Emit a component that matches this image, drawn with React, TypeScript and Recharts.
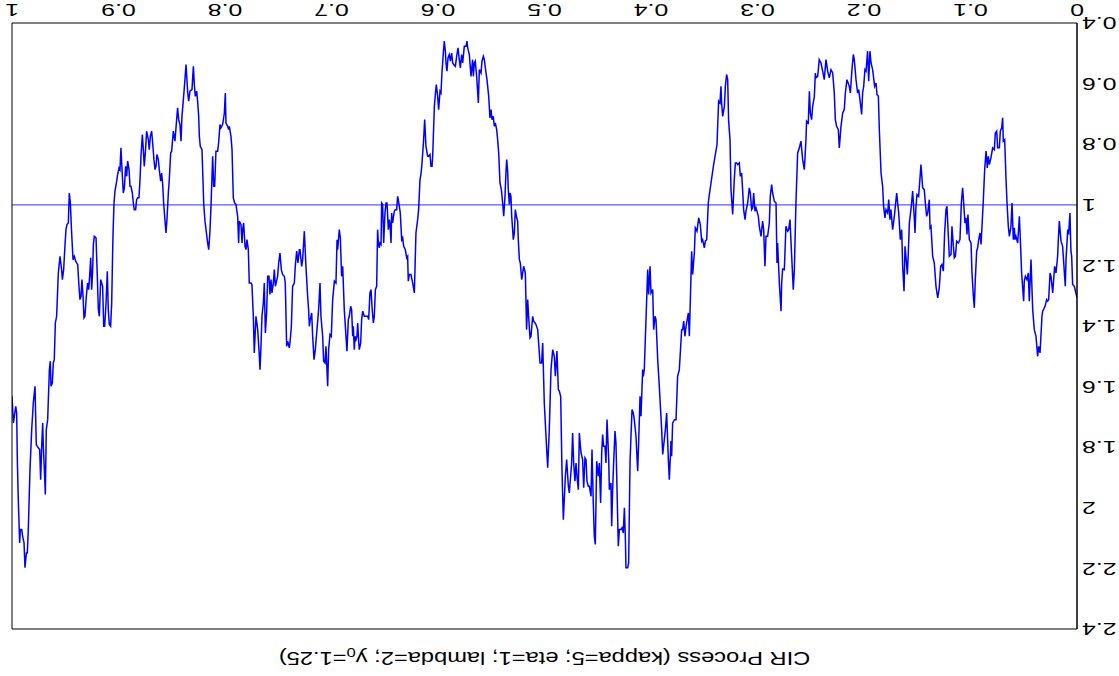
import React from 'react';
import { LineChart, Line, XAxis, YAxis, ReferenceLine } from 'recharts';

const W = 1119;
const H = 676;

const xTicks = [0, 0.1, 0.2, 0.3, 0.4, 0.5, 0.6, 0.7, 0.8, 0.9, 1];
const yTicks = [0.4, 0.6, 0.8, 1, 1.2, 1.4, 1.6, 1.8, 2, 2.2, 2.4];
const longRunMean = 1;

// [time, value] samples of the simulated CIR path
const seg1: [number, number][] = [[0,1.307],[0.0025,1.269],[0.0041,1.263],[0.005,1.17],[0.0057,1.153],[0.0066,1.027],[0.0078,1.093],[0.0088,1.087],[0.0103,1.181],[0.011,1.269],[0.0135,1.137],[0.015,1.12],[0.0166,1.054],[0.0175,1.115],[0.0182,1.17],[0.0197,1.225],[0.021,1.203],[0.0228,1.291],[0.0244,1.236],[0.0253,1.225],[0.0266,1.313],[0.0275,1.318],[0.0285,1.313],[0.03,1.335],[0.0322,1.351],[0.0329,1.368],[0.0347,1.489],[0.036,1.467],[0.037,1.5],[0.0385,1.434],[0.0401,1.412],[0.0416,1.346],[0.0432,1.181],[0.0448,1.318],[0.0457,1.225],[0.047,1.247],[0.0485,1.236],[0.0495,1.252],[0.0501,1.318],[0.052,1.225],[0.0532,1.115],[0.0541,1.038],[0.0557,1.126],[0.0573,1.104],[0.0582,1.115],[0.0588,1.076],[0.0598,1.115],[0.061,0.994],[0.062,1.071],[0.0635,1.104],[0.0645,1.071],[0.0657,0.994],[0.0667,0.911],[0.0679,0.785],[0.0692,0.79],[0.0698,0.713],[0.0707,0.746],[0.072,0.757],[0.0729,0.812],[0.0745,0.812],[0.0754,0.757],[0.0767,0.763],[0.0776,0.818],[0.0792,0.812],[0.0808,0.845],[0.0823,0.867],[0.0833,0.84],[0.0842,0.878],[0.0854,0.823],[0.0867,0.884],[0.088,0.988],[0.0892,1.071],[0.0901,1.131],[0.0911,1.093],[0.0923,1.115],[0.0933,1.142],[0.0942,1.153],[0.0955,1.247],[0.0964,1.34],[0.0973,1.302],[0.0986,1.225],[0.0995,1.126],[0.1011,1.115],[0.1024,1.032],[0.1033,1.098],[0.1042,1.043],[0.1052,1.06],[0.1064,0.994],[0.1074,0.944],[0.1086,0.994],[0.1099,1.115],[0.1114,1.126],[0.113,1.12],[0.1142,1.17],[0.1152,1.175],[0.1161,1.137],[0.1174,1.071],[0.1183,1.164],[0.1199,1.17],[0.1208,1.104],[0.1221,1.005],[0.123,1.016],[0.1243,1.093],[0.1255,1.219],[0.1268,1.197],[0.128,1.203],[0.1293,1.274],[0.1308,1.307],[0.1324,1.269],[0.134,1.192],[0.1355,1.17],[0.1371,1.071],[0.138,1.076],[0.1387,0.983],[0.1402,1.027],[0.1412,1.038],[0.1424,0.994],[0.1434,0.95],[0.1449,0.944],[0.1465,0.867],[0.1474,0.911],[0.1487,0.972],[0.1502,0.966],[0.1512,1.005],[0.1521,1.093],[0.1527,1.049],[0.1543,0.955],[0.1556,1.005],[0.1574,1.06],[0.1584,1.159],[0.1593,1.23],[0.1606,1.17],[0.1615,1.137],[0.1624,1.285],[0.1637,1.203],[0.1646,1.082],[0.1659,1.115],[0.1674,1.027],[0.1684,0.994],[0.1693,0.961]];

const seg2: [number, number][] = [[0.1706,1.005],[0.1715,1.038],[0.1731,1.082],[0.1747,1.016],[0.1756,1.049],[0.1768,0.983],[0.1778,1.027],[0.1794,1.016],[0.1803,1.043],[0.1816,1.005],[0.1825,0.939],[0.184,0.895],[0.1856,0.752],[0.1865,0.642],[0.1878,0.636],[0.1887,0.598],[0.19,0.609],[0.1919,0.554],[0.1934,0.532],[0.1944,0.493],[0.1956,0.592],[0.1966,0.493],[0.1981,0.559],[0.1991,0.554],[0.2003,0.609],[0.2013,0.631],[0.2022,0.702],[0.2038,0.653],[0.205,0.62],[0.206,0.631],[0.2075,0.587],[0.2091,0.521],[0.21,0.504],[0.2113,0.554],[0.2128,0.631],[0.2138,0.609],[0.216,0.587],[0.2175,0.631],[0.2185,0.686],[0.22,0.697],[0.2216,0.741],[0.2232,0.812],[0.2241,0.752],[0.2257,0.741],[0.2269,0.719],[0.2279,0.631],[0.2294,0.565],[0.231,0.554],[0.2326,0.581],[0.2341,0.559],[0.2357,0.521],[0.2373,0.587],[0.2388,0.559],[0.2404,0.532],[0.242,0.521],[0.2435,0.576],[0.2451,0.581],[0.2457,0.565],[0.2466,0.642],[0.2482,0.675],[0.2492,0.719],[0.2504,0.697],[0.2513,0.625],[0.2523,0.73],[0.2539,0.724],[0.2545,0.785],[0.256,0.884],[0.2576,0.851],[0.2592,0.79],[0.2607,0.812],[0.2623,0.829],[0.2639,0.994],[0.2654,1.214],[0.2664,1.28],[0.2676,1.192],[0.2695,1.049],[0.2707,1.082],[0.2717,1.087],[0.2733,1.071],[0.2748,1.214],[0.2764,1.212],[0.2773,1.258],[0.2779,1.351],[0.2795,1.258],[0.2811,1.126],[0.2817,1.192],[0.2826,0.994],[0.2842,0.988],[0.2858,0.961],[0.2867,0.933],[0.288,0.972],[0.2889,1.06],[0.2905,1.104],[0.292,1.104],[0.293,1.203],[0.2942,1.082],[0.2952,1.054],[0.2967,1.104],[0.2983,1.071],[0.2992,1.038],[0.3005,1.021],[0.3014,1.01],[0.3024,1.021],[0.3036,0.961],[0.3045,1.01],[0.3055,1.016],[0.3067,0.961],[0.3077,0.944],[0.3092,0.994],[0.3108,1.021],[0.3117,1.049],[0.313,1.016],[0.3139,0.955],[0.3149,0.895],[0.3161,0.906],[0.3171,0.862],[0.3186,0.867],[0.3196,0.862],[0.3208,0.862],[0.3218,0.917],[0.3233,1.032],[0.3249,0.95],[0.3258,0.785],[0.3271,0.724],[0.328,0.587],[0.329,0.57],[0.3302,0.609],[0.3311,0.675],[0.3327,0.708],[0.3337,0.664],[0.3343,0.609],[0.3352,0.664],[0.3365,0.658],[0.3374,0.741],[0.338,0.801],[0.3413,0.87]];

const seg3: [number, number][] = [[0.3452,0.966],[0.3462,0.994],[0.3477,1.115],[0.349,1.12],[0.3499,1.142],[0.3515,1.115],[0.3524,1.12],[0.3537,1.065],[0.3552,1.043],[0.3568,1.087],[0.3584,1.076],[0.3593,1.159],[0.3609,1.23],[0.3618,1.153],[0.3634,1.357],[0.364,1.434],[0.3649,1.357],[0.3671,1.401],[0.3681,1.434],[0.3693,1.384],[0.3703,1.412],[0.3712,1.412],[0.3734,1.544],[0.375,1.566],[0.3765,1.709],[0.3778,1.709],[0.3797,1.72],[0.3806,1.83],[0.3812,1.78],[0.3828,1.907],[0.3837,1.841],[0.3853,1.687],[0.3865,1.742],[0.3875,1.775],[0.389,1.824],[0.39,1.742],[0.3922,1.599],[0.3937,1.511],[0.3953,1.379],[0.3962,1.368],[0.3975,1.412],[0.3984,1.28],[0.4,1.291],[0.4009,1.203],[0.4022,1.296],[0.4031,1.214],[0.4047,1.379],[0.4063,1.544],[0.4072,1.566],[0.4078,1.544],[0.4094,1.698],[0.4103,1.632],[0.4116,1.786],[0.4125,1.879],[0.4141,1.764],[0.4157,1.709],[0.4166,1.687],[0.4178,1.676],[0.4188,1.764],[0.4197,1.852],[0.421,2.182],[0.4219,2.198],[0.4235,2.198],[0.4241,2.094],[0.425,2.0],[0.426,2.083],[0.4272,2.066],[0.4282,2.072],[0.4297,2.072],[0.4307,2.127],[0.4319,1.94],[0.4329,1.786],[0.4338,1.747],[0.4351,1.852],[0.436,1.94],[0.4369,2.061],[0.4376,1.918],[0.4391,1.94],[0.4397,1.841],[0.4413,1.709],[0.4423,1.852],[0.4432,1.797],[0.4445,1.797],[0.4454,1.758],[0.4463,1.819],[0.4473,1.984],[0.4485,1.852],[0.4495,1.896],[0.451,1.846],[0.4523,2.121],[0.4532,2.094],[0.4542,1.984],[0.4554,1.808],[0.4563,1.962],[0.4579,1.929],[0.4589,1.929],[0.4601,1.912],[0.461,1.841],[0.462,1.835],[0.4632,1.934],[0.4642,1.841],[0.4657,1.819],[0.4673,1.753],[0.4682,1.94],[0.4692,1.907],[0.4704,1.852],[0.4714,1.912],[0.4726,1.852],[0.4736,1.753],[0.4745,1.852],[0.4767,1.951],[0.4776,1.929],[0.4792,1.841],[0.4804,1.896],[0.4823,2.039],[0.4836,1.874],[0.4848,1.632],[0.4861,1.615],[0.487,1.61],[0.4883,1.483],[0.4898,1.566],[0.4908,1.5],[0.4923,1.478],[0.4939,1.544],[0.4955,1.742],[0.497,1.868],[0.4986,1.764],[0.5002,1.654],[0.5017,1.456],[0.5027,1.522],[0.5042,1.522],[0.5055,1.456],[0.5064,1.412],[0.508,1.395]];

const seg4: [number, number][] = [[0.5089,1.39],[0.5102,1.384],[0.5111,1.368],[0.5127,1.434],[0.5136,1.439],[0.5149,1.368],[0.5158,1.313],[0.5168,1.412],[0.518,1.225],[0.5196,1.203],[0.5214,1.247],[0.5227,1.192],[0.5236,1.181],[0.5246,1.115],[0.5252,1.054],[0.5261,1.043],[0.5274,1.016],[0.5283,1.093],[0.5293,1.115],[0.5299,1.082],[0.5308,1.038],[0.5315,0.972],[0.5324,0.961],[0.533,0.999],[0.534,0.95],[0.5346,0.889],[0.5355,0.851],[0.5362,0.895],[0.5371,0.972],[0.5383,1.038],[0.5393,0.994],[0.5405,0.95],[0.5418,0.928],[0.543,0.829],[0.544,0.785],[0.5449,0.752],[0.5462,0.73],[0.5471,0.741],[0.5481,0.708],[0.5493,0.719],[0.5502,0.686],[0.5512,0.713],[0.5524,0.642],[0.554,0.587],[0.5549,0.565],[0.5565,0.521],[0.5574,0.51],[0.5587,0.526],[0.5596,0.565],[0.5612,0.554],[0.5621,0.664],[0.5628,0.625],[0.5637,0.576],[0.565,0.526],[0.5659,0.532],[0.5668,0.576],[0.5675,0.521],[0.569,0.576],[0.5706,0.504],[0.5721,0.482],[0.5728,0.46],[0.5737,0.477],[0.5753,0.477],[0.5768,0.532],[0.5778,0.504],[0.579,0.548],[0.58,0.521],[0.5812,0.482],[0.5825,0.51],[0.5837,0.543],[0.5853,0.537],[0.5862,0.532],[0.5872,0.499],[0.5884,0.526],[0.5894,0.504],[0.5906,0.515],[0.5916,0.559],[0.5925,0.532],[0.5931,0.493],[0.5941,0.46],[0.595,0.499],[0.5963,0.565],[0.5972,0.631],[0.5981,0.625],[0.5994,0.686],[0.6003,0.642],[0.6016,0.603],[0.6025,0.636],[0.6034,0.675],[0.605,0.84],[0.6056,0.873],[0.6066,0.873],[0.6075,0.834],[0.6088,0.84],[0.6097,0.84],[0.6113,0.807],[0.6125,0.719],[0.6135,0.785],[0.615,0.862],[0.616,0.9],[0.6169,0.917],[0.6182,1.016],[0.6191,1.049],[0.6207,1.093],[0.6222,1.291],[0.6238,1.258],[0.6254,1.23],[0.6269,1.23],[0.6279,1.252],[0.6285,1.17],[0.6294,1.175],[0.6307,1.148],[0.6322,1.137],[0.6332,1.109],[0.6341,1.115],[0.6354,1.027],[0.6363,1.005],[0.6373,0.983],[0.6379,0.972],[0.6388,1.016],[0.6401,1.016],[0.641,1.021],[0.6426,1.06],[0.6435,1.027],[0.6441,1.126],[0.6451,1.06],[0.6457,1.049],[0.6466,1.082],[0.6479,0.994],[0.6488,0.994],[0.6498,1.027],[0.651,1.126],[0.652,0.999],[0.6529,0.994],[0.6535,1.131],[0.6545,1.126],[0.6551,1.142],[0.656,1.126],[0.6567,1.082],[0.6576,1.269],[0.6588,1.28],[0.6598,1.368],[0.6607,1.39],[0.662,1.335],[0.6629,1.28],[0.6639,1.291],[0.6651,1.379],[0.666,1.368],[0.6676,1.368],[0.6692,1.368],[0.6707,1.351],[0.6717,1.379],[0.6726,1.456],[0.6739,1.478],[0.6745,1.45],[0.6754,1.39],[0.6761,1.434],[0.677,1.445]];

const seg5: [number, number][] = [[0.6779,1.434],[0.6786,1.478],[0.6795,1.401],[0.6801,1.434],[0.6811,1.346],[0.682,1.335],[0.6833,1.368],[0.6842,1.379],[0.6855,1.483],[0.6864,1.434],[0.688,1.346],[0.6895,1.203],[0.6905,1.236],[0.6917,1.109],[0.6927,1.082],[0.6942,1.148],[0.6948,1.115],[0.6958,1.258],[0.6973,1.252],[0.6989,1.313],[0.7002,1.434],[0.7014,1.428],[0.7027,1.478],[0.7036,1.599],[0.7052,1.467],[0.7061,1.522],[0.7074,1.516],[0.7083,1.434],[0.7099,1.368],[0.7108,1.258],[0.7121,1.346],[0.7139,1.423],[0.7152,1.478],[0.7164,1.511],[0.7177,1.434],[0.7186,1.357],[0.7199,1.379],[0.7208,1.401],[0.7215,1.346],[0.7224,1.302],[0.724,1.203],[0.7255,1.087],[0.7271,1.181],[0.728,1.203],[0.7296,1.148],[0.7302,1.148],[0.7315,1.192],[0.7327,1.153],[0.734,1.203],[0.7349,1.258],[0.7365,1.269],[0.7377,1.401],[0.739,1.456],[0.7396,1.472],[0.7412,1.45],[0.7421,1.467],[0.7434,1.258],[0.7443,1.236],[0.7459,1.23],[0.7471,1.214],[0.7484,1.159],[0.7496,1.192],[0.7506,1.236],[0.7527,1.269],[0.7537,1.214],[0.7546,1.258],[0.7559,1.291],[0.7568,1.247],[0.7578,1.296],[0.7587,1.236],[0.7599,1.236],[0.7609,1.357],[0.7621,1.423],[0.7631,1.258],[0.764,1.324],[0.7653,1.368],[0.7662,1.467],[0.7671,1.544],[0.7681,1.478],[0.7693,1.412],[0.7709,1.368],[0.7715,1.412],[0.7725,1.489],[0.7734,1.368],[0.7747,1.263],[0.7756,1.258],[0.7772,1.258],[0.7781,1.148],[0.7794,1.115],[0.7803,1.148],[0.7812,1.137],[0.7825,1.06],[0.7834,1.082],[0.784,1.126],[0.785,1.065],[0.7866,1.054],[0.7872,1.126],[0.7881,1.038],[0.7897,0.999],[0.7909,0.994],[0.7922,0.977],[0.7934,0.818],[0.7944,0.774],[0.7959,0.741],[0.7966,0.752],[0.7975,0.741],[0.7991,0.73],[0.7997,0.631],[0.8006,0.697],[0.8022,0.735],[0.8038,0.746],[0.8047,0.735],[0.806,0.796],[0.8069,0.823],[0.8085,0.823],[0.8097,0.939],[0.8106,0.939],[0.8116,0.84],[0.8125,0.939],[0.8131,0.999],[0.8141,1.087],[0.8153,1.148],[0.8163,1.126],[0.8178,1.082],[0.8188,1.054],[0.82,0.994],[0.8216,0.818],[0.8232,0.807],[0.8241,0.774],[0.8247,0.708],[0.8257,0.658],[0.8266,0.625],[0.8279,0.642],[0.8288,0.603],[0.8297,0.543],[0.831,0.62],[0.8329,0.625],[0.8341,0.658],[0.835,0.631],[0.8366,0.537],[0.8382,0.614],[0.8391,0.653],[0.8404,0.708],[0.8413,0.79],[0.8423,0.735],[0.8435,0.719],[0.8445,0.68],[0.8454,0.719]];

const seg6: [number, number][] = [[0.847,0.79],[0.8485,0.757],[0.8501,0.823],[0.851,0.829],[0.8523,0.917],[0.8532,0.961],[0.8545,1.049],[0.8554,1.093],[0.8563,1.054],[0.8576,0.994],[0.8585,0.933],[0.8595,0.895],[0.8604,0.922],[0.8617,0.884],[0.8626,0.851],[0.8639,0.834],[0.8648,0.873],[0.8657,0.884],[0.8667,0.851],[0.8679,0.796],[0.8689,0.757],[0.8701,0.774],[0.8711,0.818],[0.872,0.785],[0.8736,0.757],[0.8745,0.812],[0.8758,0.873],[0.8767,0.818],[0.8776,0.768],[0.8789,0.84],[0.8798,0.917],[0.8808,0.977],[0.882,0.977],[0.883,0.983],[0.8839,1.016],[0.8852,1.016],[0.8861,0.994],[0.887,0.961],[0.8883,0.939],[0.8892,0.939],[0.8901,0.884],[0.8914,0.856],[0.8923,0.906],[0.8933,0.873],[0.8945,0.944],[0.8955,0.961],[0.8967,0.884],[0.8977,0.812],[0.8986,0.884],[0.8995,0.878],[0.9008,0.9],[0.9017,0.922],[0.9033,0.955],[0.9042,0.994],[0.9052,1.104],[0.9064,1.324],[0.9074,1.401],[0.9086,1.395],[0.9096,1.346],[0.9105,1.219],[0.9117,1.324],[0.913,1.401],[0.9139,1.401],[0.9149,1.269],[0.9158,1.258],[0.9167,1.247],[0.918,1.368],[0.9189,1.346],[0.9199,1.236],[0.9211,1.109],[0.9227,1.104],[0.9236,1.131],[0.9243,1.219],[0.9252,1.28],[0.9261,1.175],[0.9271,1.236],[0.928,1.28],[0.929,1.258],[0.9302,1.302],[0.9315,1.368],[0.9324,1.373],[0.9333,1.302],[0.9343,1.247],[0.9352,1.302],[0.9362,1.313],[0.9371,1.269],[0.9383,1.197],[0.9393,1.192],[0.9402,1.186],[0.9415,1.17],[0.9427,1.181],[0.944,1.093],[0.9452,0.994],[0.9462,0.961],[0.9471,1.06],[0.9484,1.065],[0.9493,1.082],[0.9502,1.131],[0.9515,1.214],[0.9527,1.247],[0.9534,1.214],[0.954,1.197],[0.9549,1.17],[0.9565,1.225],[0.9581,1.368],[0.9593,1.39],[0.9603,1.511],[0.9612,1.522],[0.9621,1.588],[0.9634,1.599],[0.964,1.516],[0.9649,1.544],[0.9665,1.709],[0.9678,1.742],[0.9687,1.956],[0.9696,1.874],[0.9706,1.797],[0.9712,1.72],[0.9721,1.797],[0.9731,1.907],[0.974,1.808],[0.9753,1.802],[0.9762,1.797],[0.9772,1.791],[0.9784,1.599],[0.98,1.654],[0.9815,1.742],[0.9831,1.874],[0.9847,2.072],[0.9856,2.149],[0.9865,2.149],[0.9878,2.198],[0.9887,2.116],[0.99,2.094],[0.9909,2.072],[0.9922,2.072],[0.9928,2.116],[0.994,1.984],[0.995,1.841],[0.9956,1.687],[0.9965,1.665],[0.9978,1.698],[0.9987,1.72],[1,1.632]];

const data = [...seg1, ...seg2, ...seg3, ...seg4, ...seg5, ...seg6].map(([t, v]) => ({ t, v }));

const FONT = '"Liberation Sans", Arial, Helvetica, sans-serif';

function XTick(props: any) {
  const { x, y, payload } = props;
  return (
    <g transform={`translate(${x},${y})`}>
      <text x={0} y={19.5} textAnchor="middle" fontSize={16} fontFamily={FONT} fill="#000" transform="scale(1.55,1)">
        {String(payload.value)}
      </text>
    </g>
  );
}

function YTick(props: any) {
  const { x, y, payload } = props;
  return (
    <g transform={`translate(${x},${y})`}>
      <text x={0} y={5.8} textAnchor="end" fontSize={16} fontFamily={FONT} fill="#000" transform="scale(1.55,1)">
        {String(payload.value)}
      </text>
    </g>
  );
}

export default function App() {
  return (
    <div
      style={{
        position: 'absolute',
        left: 0,
        top: 0,
        width: W,
        height: H,
        background: '#fff',
        transform: 'rotate(180deg)',
      }}
    >
      <svg width={W} height={40} style={{ position: 'absolute', left: 0, top: 0 }}>
        <text
          x={0}
          y={0}
          transform="translate(574.5,24.3) scale(1.28,1)"
          textAnchor="middle"
          fontSize={18.5}
          fontFamily={FONT}
          fill="#000"
        >
          CIR Process (kappa=5; eta=1; lambda=2; y
          <tspan fontSize={13} dy={4}>0</tspan>
          <tspan dy={-4}>=1.25)</tspan>
        </text>
      </svg>
      <div style={{ position: 'absolute', left: 0, top: 0 }}>
        <LineChart width={W} height={H} data={data} margin={{ top: 47, right: 12, bottom: 0, left: 0 }}>
          <XAxis
            xAxisId="b"
            dataKey="t"
            type="number"
            domain={[0, 1]}
            ticks={xTicks}
            interval={0}
            height={23}
            tickSize={0}
            tickMargin={0}
            tickLine={false}
            axisLine={{ stroke: '#000', strokeWidth: 1 }}
            tick={(p: any) => <XTick {...p} />}
            allowDataOverflow
          />
          <XAxis
            xAxisId="bm"
            type="number"
            orientation="bottom"
            mirror
            domain={[0, 1]}
            ticks={xTicks}
            interval={0}
            tick={false}
            tickSize={8}
            tickLine={{ stroke: '#000' }}
            axisLine={false}
            allowDataOverflow
          />
          <XAxis
            xAxisId="tm"
            type="number"
            orientation="top"
            mirror
            domain={[0, 1]}
            ticks={xTicks}
            interval={0}
            tick={false}
            tickSize={8}
            tickLine={{ stroke: '#000' }}
            axisLine={{ stroke: '#000' }}
            allowDataOverflow
          />
          <YAxis
            yAxisId="l"
            type="number"
            domain={[0.4, 2.4]}
            ticks={yTicks}
            interval={0}
            width={42}
            tickSize={0}
            tickMargin={5}
            tickLine={false}
            axisLine={{ stroke: '#000', strokeWidth: 1.5 }}
            tick={(p: any) => <YTick {...p} />}
            allowDataOverflow
          />
          <YAxis
            yAxisId="lm"
            type="number"
            orientation="left"
            mirror
            domain={[0.4, 2.4]}
            ticks={yTicks}
            interval={0}
            tick={false}
            tickSize={10}
            tickLine={{ stroke: '#000' }}
            axisLine={false}
            allowDataOverflow
          />
          <YAxis
            yAxisId="rm"
            type="number"
            orientation="right"
            mirror
            domain={[0.4, 2.4]}
            ticks={yTicks}
            interval={0}
            tick={false}
            tickSize={10}
            tickLine={{ stroke: '#000' }}
            axisLine={{ stroke: '#000' }}
            allowDataOverflow
          />
          <ReferenceLine xAxisId="b" yAxisId="l" y={longRunMean} stroke="#5a5aff" strokeWidth={1.2} />
          <Line
            xAxisId="b"
            yAxisId="l"
            dataKey="v"
            type="linear"
            stroke="#0000ff"
            strokeWidth={1.5}
            dot={false}
            activeDot={false}
            isAnimationActive={false}
          />
        </LineChart>
      </div>
    </div>
  );
}
